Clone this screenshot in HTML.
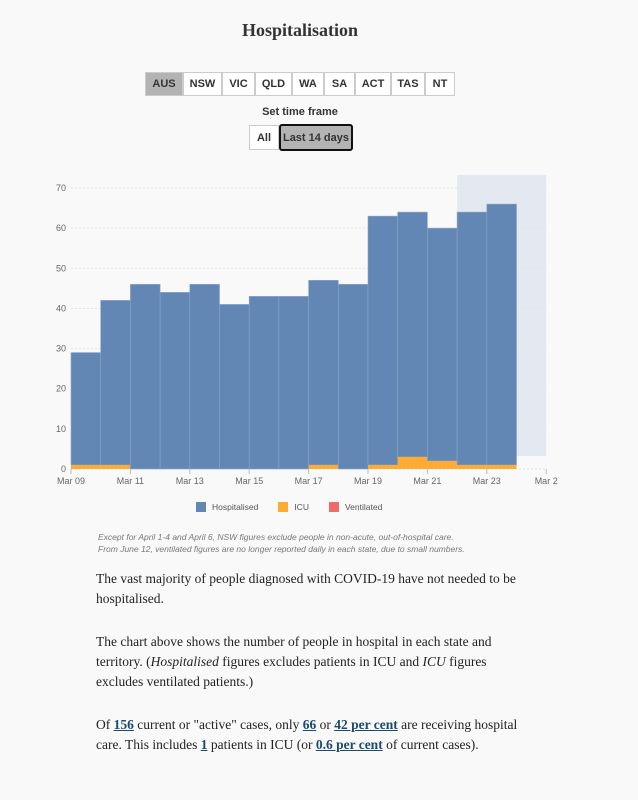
<!DOCTYPE html>
<html><head><meta charset="utf-8"><style>
body{margin:0;background:#f9f9f9;width:638px;height:800px;position:relative;font-family:"Liberation Sans",sans-serif;overflow:hidden}
.t{position:absolute;left:0;width:600px;text-align:center;top:20px;font-family:"Liberation Serif",serif;font-size:18px;font-weight:bold;color:#333}
.btn{position:absolute;top:72px;height:24px;box-sizing:border-box;border:1px solid #ccc;background:#fff;font-size:11px;font-weight:bold;color:#333;display:flex;align-items:center;justify-content:center}
.p{position:absolute;left:96px;width:440px;font-family:"Liberation Serif",serif;font-size:13.5px;line-height:20px;color:#222}
.p b{color:#1a4a6e;text-decoration:underline;font-weight:bold}
.note{position:absolute;left:98px;font-size:8.5px;font-style:italic;color:#777;line-height:12px}
</style></head><body>
<div class="t">Hospitalisation</div>
<div>
<div class="btn" style="left:145px;width:38px;background:#b3b3b3">AUS</div>
<div class="btn" style="left:183px;width:39px">NSW</div>
<div class="btn" style="left:222px;width:33px">VIC</div>
<div class="btn" style="left:255px;width:37px">QLD</div>
<div class="btn" style="left:292px;width:32px">WA</div>
<div class="btn" style="left:324px;width:31px">SA</div>
<div class="btn" style="left:355px;width:36px">ACT</div>
<div class="btn" style="left:391px;width:34px">TAS</div>
<div class="btn" style="left:425px;width:30px">NT</div>
</div>
<div style="position:absolute;top:106px;left:0;width:600px;text-align:center;font-size:11px;font-weight:bold;color:#333">Set time frame</div>
<div class="btn" style="top:125px;left:249px;width:30px;height:25px">All</div>
<div class="btn" style="top:124px;left:279px;width:74px;height:27px;background:#b3b3b3;border:2px solid #111;border-radius:3px">Last 14 days</div>
<svg id="chart" width="638" height="500" style="position:absolute;left:0;top:0"></svg>
<div style="position:absolute;top:502px;left:196px;font-size:8.5px;color:#555;display:flex;gap:0">
<span><span style="display:inline-block;width:10px;height:10px;background:#6287b4;vertical-align:-2px;margin-right:6px"></span>Hospitalised</span>
<span style="margin-left:20px"><span style="display:inline-block;width:10px;height:10px;background:#ffaa33;vertical-align:-2px;margin-right:6px"></span>ICU</span>
<span style="margin-left:20px"><span style="display:inline-block;width:10px;height:10px;background:#f06a6a;vertical-align:-2px;margin-right:6px"></span>Ventilated</span>
</div>
<div class="note" style="top:531px">Except for April 1-4 and April 6, NSW figures exclude people in non-acute, out-of-hospital care.<br>From June 12, ventilated figures are no longer reported daily in each state, due to small numbers.</div>
<div class="p" style="top:569px">The vast majority of people diagnosed with COVID-19 have not needed to be hospitalised.</div>
<div class="p" style="top:632px">The chart above shows the number of people in hospital in each state and territory. (<i>Hospitalised</i> figures excludes patients in ICU and <i>ICU</i> figures excludes ventilated patients.)</div>
<div class="p" style="top:715px">Of <b>156</b> current or "active" cases, only <b>66</b> or <b>42 per cent</b> are receiving hospital care. This includes <b>1</b> patients in ICU (or <b>0.6 per cent</b> of current cases).</div>
<script>
const days=["Mar 09","Mar 10","Mar 11","Mar 12","Mar 13","Mar 14","Mar 15","Mar 16","Mar 17","Mar 18","Mar 19","Mar 20","Mar 21","Mar 22","Mar 23"];
const totals=[29,42,46,44,46,41,43,43,47,46,63,64,60,64,66];
const icu=[1,1,0,0,0,0,0,0,1,0,1,3,2,1,1];
const yTicks=[0,10,20,30,40,50,60,70];
const xTickLabels=["Mar 09","Mar 11","Mar 13","Mar 15","Mar 17","Mar 19","Mar 21","Mar 23","Mar 2"];
const ns="http://www.w3.org/2000/svg",svg=document.getElementById('chart');
const x=i=>71+i*29.7, y=v=>469-v*4.014;
function mk(t,a){const e=document.createElementNS(ns,t);for(const k in a)e.setAttribute(k,a[k]);svg.appendChild(e);return e;}
let r=mk('rect',{x:x(13),y:175,width:x(16)-x(13),height:456-175,fill:'#e4e8f1'});

yTicks.forEach(v=>{let l=mk('line',{x1:71,x2:x(16),y1:y(v),y2:y(v),stroke:'#e3e3e3','stroke-dasharray':'2,2'});

let t=mk('text',{x:66,y:y(v)+3,'text-anchor':'end','font-size':'9','fill':'#666','font-family':'Liberation Sans'});t.textContent=v;
});
days.forEach((d,i)=>{const h=totals[i]-icu[i];
let b=mk('rect',{x:x(i),y:y(totals[i]),width:29.7,height:h*4.014,fill:'#6287b4',stroke:'#8aa6c8','stroke-width':0.6});

if(icu[i]>0){let c=mk('rect',{x:x(i),y:y(icu[i]),width:29.7,height:icu[i]*4.014,fill:'#ffaa33'});
}});
xTickLabels.forEach((s,j)=>{const xx=x(j*2);
let l=mk('line',{x1:xx,x2:xx,y1:469,y2:474,stroke:'#bbb'});
let t=mk('text',{x:xx,y:484,'text-anchor':'middle','font-size':'9','fill':'#666','font-family':'Liberation Sans'});t.textContent=s;
});
</script>
</body></html>
